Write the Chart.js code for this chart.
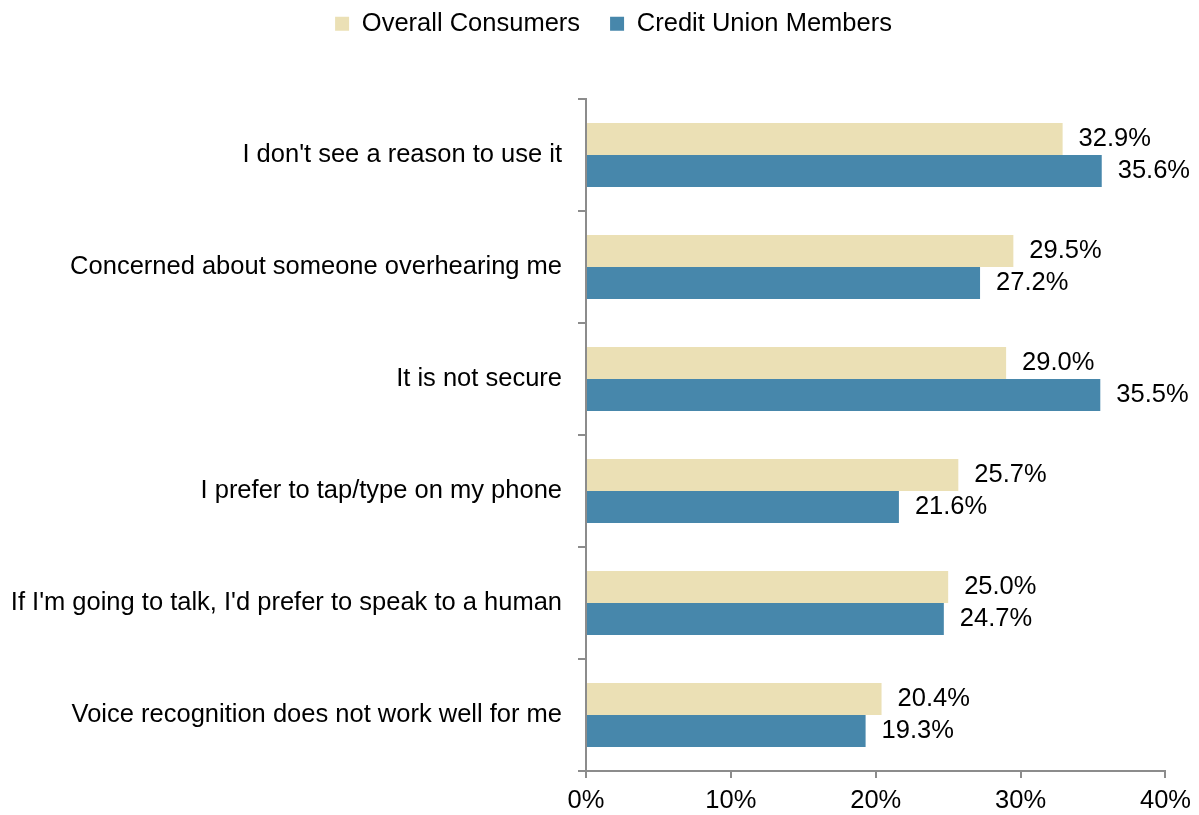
<!DOCTYPE html>
<html>
<head>
<meta charset="utf-8">
<script src="https://cdn.jsdelivr.net/npm/chart.js@4/dist/chart.umd.min.js"></script>
<style>
  html, body { margin: 0; padding: 0; background: #fff; }
  #wrap { width: 1199px; height: 815px; position: relative; }
</style>
</head>
<body>
<div id="wrap"><canvas id="c"></canvas></div>
<script>
// Reasons for not using voice assistants with a banking app
const categories = [
  "I don't see a reason to use it",
  "Concerned about someone overhearing me",
  "It is not secure",
  "I prefer to tap/type on my phone",
  "If I'm going to talk, I'd prefer to speak to a human",
  "Voice recognition does not work well for me"
];
const overallConsumers = [32.9, 29.5, 29.0, 25.7, 25.0, 20.4];
const creditUnionMembers = [35.6, 27.2, 35.5, 21.6, 24.7, 19.3];
const xTicks = [0, 10, 20, 30, 40];

const FONT = "'Liberation Sans', Arial, sans-serif";
const FONT_SIZE = 25.5;
const AXIS_GRAY = '#8c8c8c';

// Writes each bar's percentage just past its end
const valueLabels = {
  id: 'valueLabels',
  afterDatasetsDraw(chart) {
    const ctx = chart.ctx;
    ctx.save();
    ctx.font = FONT_SIZE + 'px ' + FONT;
    ctx.fillStyle = '#000';
    ctx.textAlign = 'left';
    ctx.textBaseline = 'middle';
    chart.data.datasets.forEach((ds, di) => {
      chart.getDatasetMeta(di).data.forEach((bar, i) => {
        ctx.fillText(ds.data[i].toFixed(1) + '%', bar.x + 16, bar.y);
      });
    });
    ctx.restore();
  }
};

// Leaves room under the legend before the plot starts, and sets the legend row in place
const legendSpace = {
  id: 'legendSpace',
  beforeInit(chart) {
    const legend = chart.legend;
    const origFit = legend.fit;
    legend.fit = function () {
      origFit.call(this);
      this.height = 99;
    };
    const origDraw = legend.draw;
    legend.draw = function () {
      const ctx = chart.ctx;
      ctx.save();
      ctx.translate(29, -19);
      origDraw.call(this);
      ctx.restore();
    };
  }
};

new Chart(document.getElementById('c'), {
  type: 'bar',
  data: {
    labels: categories,
    datasets: [
      { label: 'Overall Consumers', data: overallConsumers, backgroundColor: '#ebe0b5',
        categoryPercentage: 0.57, barPercentage: 1.0 },
      { label: 'Credit Union Members', data: creditUnionMembers, backgroundColor: '#4787ab',
        categoryPercentage: 0.57, barPercentage: 1.0 }
    ]
  },
  options: {
    indexAxis: 'y',
    responsive: true,
    maintainAspectRatio: false,
    animation: false,
    layout: { padding: { left: 0, right: 30, top: 0, bottom: 0 } },
    plugins: {
      legend: {
        position: 'top',
        align: 'center',
        labels: {
          font: { family: FONT, size: FONT_SIZE },
          color: '#000',
          boxWidth: 14,
          boxHeight: 14,
          padding: 30,
          useBorderRadius: false
        }
      },
      tooltip: { enabled: false }
    },
    scales: {
      x: {
        min: 0,
        max: 40,
        afterBuildTicks(scale) { scale.ticks = xTicks.map(v => ({ value: v })); },
        afterFit(scale) { scale.height = 44; },
        ticks: {
          callback: v => v + '%',
          font: { family: FONT, size: FONT_SIZE },
          color: '#000',
          padding: 8,
          maxRotation: 0
        },
        grid: { drawOnChartArea: false, drawTicks: true, tickLength: 7, color: AXIS_GRAY, lineWidth: 2 },
        border: { display: true, color: AXIS_GRAY, width: 2 }
      },
      y: {
        afterFit(scale) { scale.width = 586; },
        ticks: {
          font: { family: FONT, size: FONT_SIZE },
          color: '#000',
          padding: 16,
          autoSkip: false
        },
        grid: { offset: true, drawOnChartArea: false, drawTicks: true, tickLength: 8, color: AXIS_GRAY, lineWidth: 2 },
        border: { display: true, color: AXIS_GRAY, width: 2 }
      }
    }
  },
  plugins: [valueLabels, legendSpace]
});
</script>
</body>
</html>
